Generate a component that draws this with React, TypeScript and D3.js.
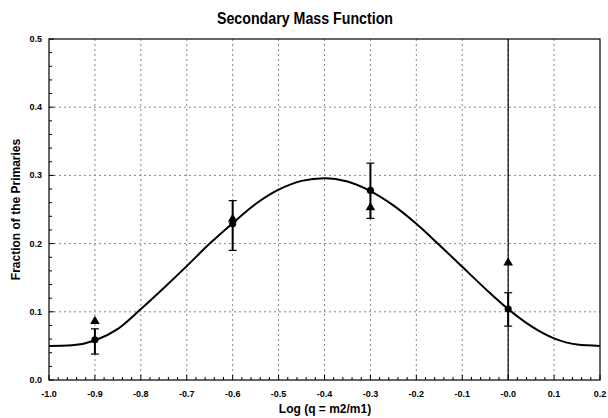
import React from 'react';
import * as d3 from 'd3';

// observed points (log q), circles with error bars
const obsX = [-0.9, -0.6, -0.3, 0.0];
const obsY = [0.059, 0.229, 0.278, 0.104];
const errLow = [0.038, 0.19, 0.237, 0.079];
const errHigh = [0.075, 0.263, 0.318, 0.128];
// second set, triangles
const triY = [0.086, 0.236, 0.253, 0.172];

// fitted curve
const curveX = [-1.0, -0.95, -0.9, -0.85, -0.8, -0.75, -0.7, -0.65, -0.6, -0.55, -0.5, -0.45, -0.4,
    -0.35, -0.3, -0.25, -0.2, -0.15, -0.1, -0.05, 0.0, 0.05, 0.1, 0.15, 0.2];
const curveY = [0.05, 0.051, 0.058, 0.075, 0.104, 0.135, 0.167, 0.2, 0.23, 0.258, 0.279, 0.292, 0.296,
    0.291, 0.277, 0.256, 0.229, 0.198, 0.166, 0.134, 0.104, 0.079, 0.061, 0.052, 0.05];

const xTicks = [-1.0, -0.9, -0.8, -0.7, -0.6, -0.5, -0.4, -0.3, -0.2, -0.1, 0.0, 0.1, 0.2];
const xTickLabels = ['-1.0', '-0.9', '-0.8', '-0.7', '-0.6', '-0.5', '-0.4', '-0.3', '-0.2', '-0.1', '-0.0', '0.1', '0.2'];
const yTicks = [0.0, 0.1, 0.2, 0.3, 0.4, 0.5];

const WIDTH = 608;
const HEIGHT = 418;
const LEFT = 49;
const RIGHT = 600;
const TOP = 39;
const BOTTOM = 380;
const FONT = '"Liberation Sans", Arial, sans-serif';

export default function App() {
    const x = d3.scaleLinear().domain([-1.0, 0.2]).range([LEFT, RIGHT]);
    const y = d3.scaleLinear().domain([0, 0.5]).range([BOTTOM, TOP]);

    const minorX = d3.range(-1.0, 0.2001, 0.02);
    const minorY = d3.range(0, 0.5001, 0.02);

    const line = d3.line<number>()
        .x((d, i) => x(curveX[i]))
        .y(d => y(d))
        .curve(d3.curveMonotoneX);

    const tri = d3.symbol().type(d3.symbolTriangle).size(40)();
    const dot = d3.symbol().type(d3.symbolCircle).size(40)();

    return (
        <div style={{ position: 'absolute', left: 0, top: 0 }}>
            <svg width={WIDTH} height={HEIGHT} style={{ display: 'block', background: '#fff' }} fontFamily={FONT}>
                <text x={305} y={24} textAnchor="middle" fontSize={16} fontWeight="bold"
                    textLength={176} lengthAdjust="spacingAndGlyphs">Secondary Mass Function</text>

                {/* grid */}
                {xTicks.slice(1, -1).map(t => (
                    <line key={'gx' + t} x1={x(t)} x2={x(t)} y1={TOP} y2={BOTTOM}
                        stroke="#888" strokeWidth={1} strokeDasharray="2,3" />
                ))}
                {yTicks.slice(1, -1).map(t => (
                    <line key={'gy' + t} x1={LEFT} x2={RIGHT} y1={y(t)} y2={y(t)}
                        stroke="#888" strokeWidth={1} strokeDasharray="2,3" />
                ))}

                {/* zero line */}
                <line x1={x(0)} x2={x(0)} y1={TOP} y2={BOTTOM} stroke="#000" strokeWidth={1.2} />

                {/* minor ticks */}
                {minorX.map((t, i) => (
                    <line key={'mx' + i} x1={x(t)} x2={x(t)} y1={BOTTOM} y2={BOTTOM - (i % 5 === 0 ? 5 : 3)} stroke="#000" />
                ))}
                {minorY.map((t, i) => (
                    <line key={'my' + i} x1={LEFT} x2={LEFT + (i % 5 === 0 ? 5 : 3)} y1={y(t)} y2={y(t)} stroke="#000" />
                ))}

                <rect x={LEFT} y={TOP} width={RIGHT - LEFT} height={BOTTOM - TOP} fill="none" stroke="#000" strokeWidth={1.2} />

                {/* curve */}
                <path d={line(curveY) || ''} fill="none" stroke="#000" strokeWidth={2} />

                {/* error bars */}
                {obsX.map((v, i) => (
                    <g key={'e' + i}>
                        <line x1={x(v)} x2={x(v)} y1={y(errLow[i])} y2={y(errHigh[i])} stroke="#000" strokeWidth={2} />
                        <line x1={x(v) - 4} x2={x(v) + 4} y1={y(errLow[i])} y2={y(errLow[i])} stroke="#000" strokeWidth={1.2} />
                        <line x1={x(v) - 4} x2={x(v) + 4} y1={y(errHigh[i])} y2={y(errHigh[i])} stroke="#000" strokeWidth={1.2} />
                    </g>
                ))}
                {obsX.map((v, i) => (
                    <path key={'t' + i} d={tri || ''} transform={`translate(${x(v)},${y(triY[i])})`} fill="#000" />
                ))}
                {obsX.map((v, i) => (
                    <path key={'c' + i} d={dot || ''} transform={`translate(${x(v)},${y(obsY[i])})`} fill="#000" />
                ))}

                {/* tick labels */}
                {xTicks.map((t, i) => (
                    <text key={'xl' + i} x={x(t)} y={397} textAnchor="middle" fontSize={9} fontWeight="bold">{xTickLabels[i]}</text>
                ))}
                {yTicks.map(t => (
                    <text key={'yl' + t} x={42} y={y(t) + 3} textAnchor="end" fontSize={9} fontWeight="bold">{t.toFixed(1)}</text>
                ))}

                <text x={325} y={413} textAnchor="middle" fontSize={12} fontWeight="bold">Log (q = m2/m1)</text>
                <text transform={`translate(20,${(TOP + BOTTOM) / 2}) rotate(-90)`} textAnchor="middle" fontSize={12} fontWeight="bold">
                    Fraction of the Primaries
                </text>
            </svg>
        </div>
    );
}
